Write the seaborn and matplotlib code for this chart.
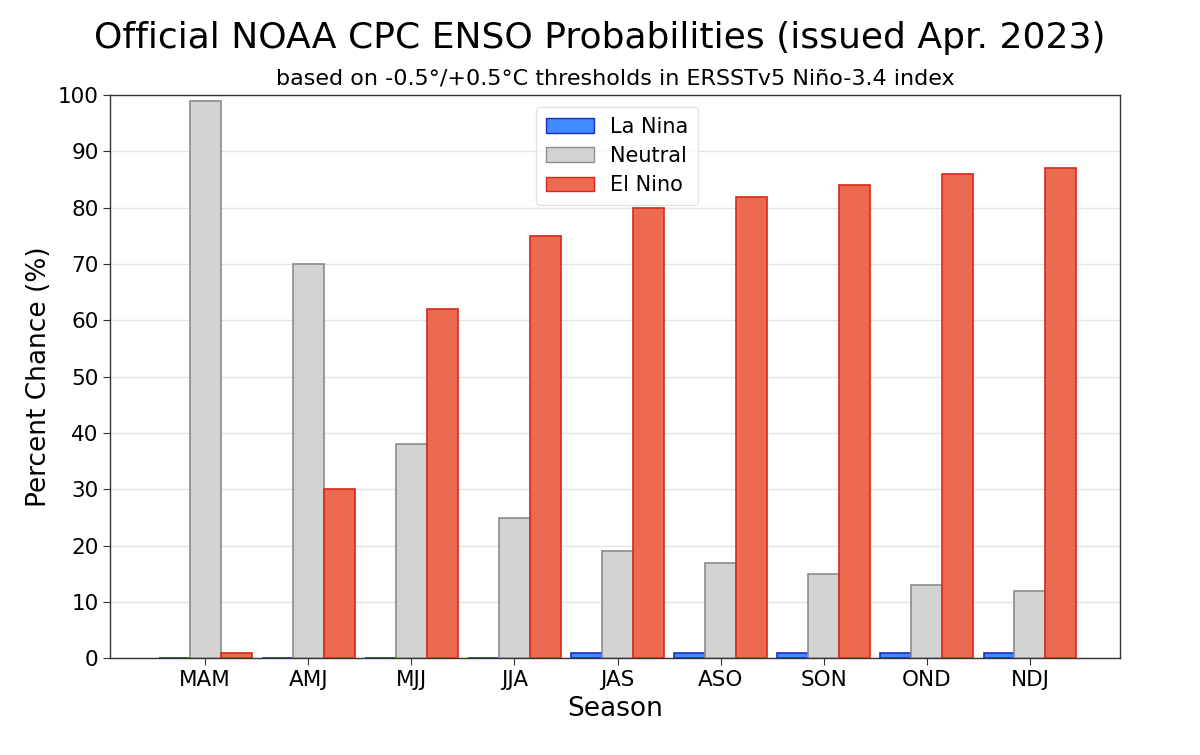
import numpy as np
import pandas as pd
import matplotlib
matplotlib.use("Agg")
import matplotlib.pyplot as plt
import seaborn as sns

seasons = ["MAM", "AMJ", "MJJ", "JJA", "JAS", "ASO", "SON", "OND", "NDJ"]
la_nina = [0, 0, 0, 0, 1, 1, 1, 1, 1]
neutral = [99, 70, 38, 25, 19, 17, 15, 13, 12]
el_nino = [1, 30, 62, 75, 80, 82, 84, 86, 87]

categories = ["La Nina", "Neutral", "El Nino"]
fills = ["#3f8bff", "#d3d3d3", "#ec6a50"]
edges = ["#1a2fc0", "#8c8c8c", "#d8281c"]

df = pd.DataFrame({
    "Season": seasons * 3,
    "Percent": la_nina + neutral + el_nino,
    "Category": [c for c in categories for _ in seasons],
})

sns.set_style("white")
plt.rcParams["font.family"] = ["DejaVu Sans"]
plt.rcParams["text.color"] = "black"
plt.rcParams["axes.labelcolor"] = "black"
plt.rcParams["xtick.color"] = "black"
plt.rcParams["ytick.color"] = "black"

fig, ax = plt.subplots(figsize=(12, 7.55), dpi=100)
fig.subplots_adjust(left=0.092, right=0.933, top=0.874, bottom=0.128)

sns.barplot(data=df, x="Season", y="Percent", hue="Category",
            hue_order=categories, palette=fills, width=0.9,
            saturation=1, ax=ax, zorder=3)

# edge colours per hue
for cont, ec in zip(ax.containers, edges):
    for bar in cont:
        bar.set_edgecolor(ec)
        bar.set_linewidth(1.2)

ax.set_ylim(0, 100)
ax.set_xlim(-0.92, 8.87)
ax.set_yticks(np.arange(0, 101, 10))
ax.yaxis.grid(True, color="#e3e3e3", linewidth=1, zorder=0)
ax.set_axisbelow(True)
for s in ax.spines.values():
    s.set_color("#333333")
    s.set_linewidth(1.0)
ax.tick_params(axis="both", labelsize=15.5, length=5, color="#333333", direction="out",
               bottom=True, left=True)

ax.set_xlabel("Season", fontsize=19, labelpad=4)
ax.set_ylabel("Percent Chance (%)", fontsize=19)
ax.set_title("based on -0.5°/+0.5°C thresholds in ERSSTv5 Niño-3.4 index",
             fontsize=16, pad=8)
fig.suptitle("Official NOAA CPC ENSO Probabilities (issued Apr. 2023)",
             fontsize=26, y=0.972)

leg = ax.legend(loc="upper center", fontsize=15, frameon=True,
                handlelength=2.3, borderpad=0.45, labelspacing=0.45,
                bbox_to_anchor=(0.502, 0.997))
leg.get_frame().set_edgecolor("#dddddd")
for h, ec in zip(leg.legend_handles, edges):
    h.set_edgecolor(ec)

fig.savefig("out.png", dpi=100)
